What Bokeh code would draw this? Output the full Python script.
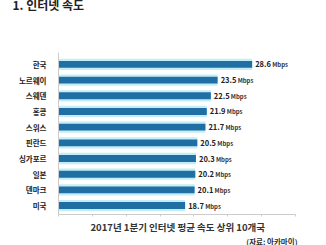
from bokeh.plotting import figure
from bokeh.models import Range1d, FixedTicker, Title, ColumnDataSource
from bokeh.core.properties import value
from bokeh.embed import file_html
from bokeh.resources import INLINE

countries = ["한국", "노르웨이", "스웨덴", "홍콩", "스위스", "핀란드", "싱가포르", "일본", "덴마크", "미국"]
speeds = [28.6, 23.5, 22.5, 21.9, 21.7, 20.5, 20.3, 20.2, 20.1, 18.7]
x_ticks = [0, 5, 10, 15, 20, 25, 30, 35]
title_text = "1. 인터넷 속도"
subtitle_text = "2017년 1분기 인터넷 평균 속도 상위 10개국"
source_text = "(자료: 아카마이)"

FONT = "Noto Sans CJK KR"
idx = list(range(len(countries)))
src = ColumnDataSource(dict(y=idx, v=speeds, num=[f"{s:.1f}" for s in speeds],
                            unit=["Mbps"] * len(speeds)))

p = figure(width=326, height=245, output_backend="svg", toolbar_location=None,
           x_range=Range1d(0, 35), y_range=Range1d(9.57, -0.76),
           min_border_left=58, min_border_right=31, min_border_top=52, min_border_bottom=30)
p.outline_line_color = None
p.grid.grid_line_color = None
p.background_fill_color = "white"
p.border_fill_color = "white"

p.hbar(y="y", left=0, right="v", height=0.72, source=src, fill_color="#c4eef5", line_color=None)
p.hbar(y="y", left=0, right="v", height=0.44, source=src, fill_color="#1f6fa4", line_color=None)

p.text(x="v", y="y", text="num", source=src, x_offset=3, text_baseline="middle",
       text_font=value(FONT), text_font_style="bold", text_font_size="7.5px", text_color="#222222")
p.text(x="v", y="y", text="unit", source=src, x_offset=20, y_offset=0.5, text_baseline="middle",
       text_font=value(FONT), text_font_style="bold", text_font_size="6px", text_color="#333333")

xa = p.xaxis[0]
xa.ticker = FixedTicker(ticks=x_ticks)
xa.major_label_overrides = {t: "" for t in x_ticks}
xa.major_label_text_font_size = "1px"
xa.major_label_standoff = 0
xa.axis_line_color = "#cccccc"
xa.major_tick_line_color = "#cccccc"
xa.major_tick_out = 2
xa.major_tick_in = 0
xa.minor_tick_line_color = None

ya = p.yaxis[0]
ya.ticker = FixedTicker(ticks=idx)
ya.major_label_overrides = {i: c for i, c in zip(idx, countries)}
ya.major_label_text_font = FONT
ya.major_label_text_font_style = "bold"
ya.major_label_text_font_size = "7.5px"
ya.major_label_text_color = "#222222"
ya.major_label_standoff = 6
ya.axis_line_color = "#cccccc"
ya.major_tick_line_color = None
ya.minor_tick_line_color = None

# top: spacer (nearest frame) then the title (outermost)
p.add_layout(Title(text=" ", text_font_size="1px", standoff=44), "above")
p.add_layout(Title(text=title_text, align="left", offset=-46, vertical_align="top", standoff=-20,
                   text_font=FONT, text_font_style="bold", text_font_size="12px",
                   text_color="#222222"), "above")
# bottom: subtitle then source
p.add_layout(Title(text=subtitle_text, align="left", offset=32, vertical_align="top", standoff=6,
                   text_font=FONT, text_font_style="bold", text_font_size="9.5px",
                   text_color="#333333"), "below")
p.add_layout(Title(text=source_text, align="right", offset=-2, vertical_align="top", standoff=-6,
                   text_font=FONT, text_font_style="bold", text_font_size="7.5px",
                   text_color="#333333"), "below")

open("out.html", "w").write(file_html(p, INLINE))
